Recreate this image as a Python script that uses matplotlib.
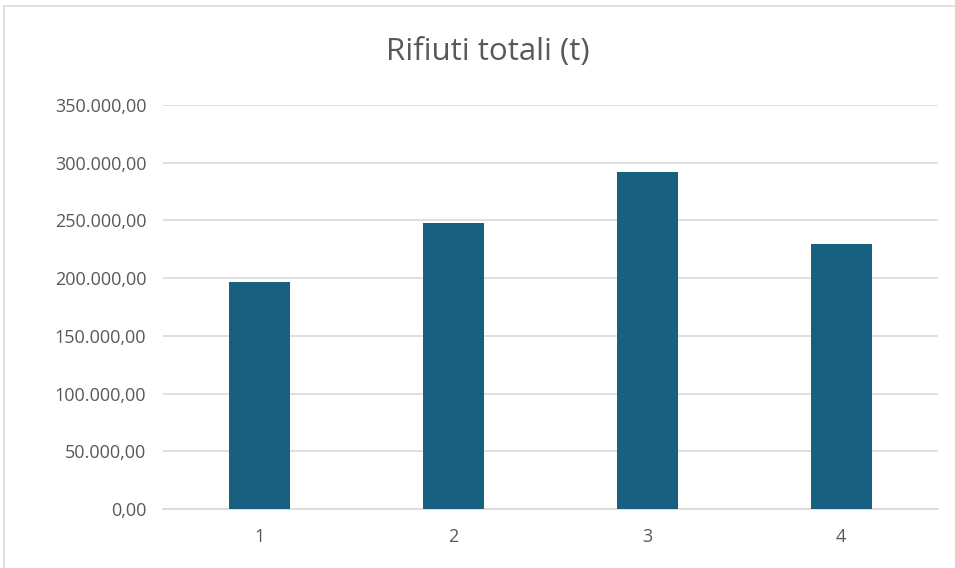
import matplotlib.pyplot as plt
from matplotlib.patches import Rectangle
from matplotlib.ticker import FuncFormatter

categories = ["1", "2", "3", "4"]
values = [196700, 247500, 292000, 229300]
yticks = [0, 50000, 100000, 150000, 200000, 250000, 300000, 350000]

plt.rcParams['font.family'] = ['Open Sans', 'DejaVu Sans']
text_color = "#595959"

fig = plt.figure(figsize=(9.55, 5.68), dpi=100)
fig.patches.append(Rectangle((4 / 955, -0.01), 1.0, (568 - 6) / 568 + 0.01,
                             transform=fig.transFigure, fill=False,
                             edgecolor="#d9d9d9", linewidth=1.2))

ax = fig.add_axes([163 / 955, 1 - 509 / 568, 775 / 955, 404 / 568])
x = range(len(categories))
ax.bar(x, values, width=0.315, color="#17607f", zorder=3)

ax.set_xlim(-0.5, len(categories) - 0.5)
ax.set_ylim(0, 350000)
ax.set_xticks(list(x))
ax.set_xticklabels(categories)
ax.set_yticks(yticks)


def it_fmt(v, pos):
    s = "{:,.2f}".format(v)
    return s.replace(",", "X").replace(".", ",").replace("X", ".")


ax.yaxis.set_major_formatter(FuncFormatter(it_fmt))
ax.grid(axis="y", color="#d9d9d9", linewidth=1.2, zorder=0)
for side in ["top", "right", "left"]:
    ax.spines[side].set_visible(False)
ax.spines["bottom"].set_color("#d9d9d9")
ax.spines["bottom"].set_linewidth(1.2)
ax.tick_params(length=0, labelsize=13, colors=text_color, pad=12)
ax.tick_params(axis="x", pad=14)

fig.text(488 / 955, 1 - 52 / 568, "Rifiuti totali (t)", ha="center", va="center",
         fontsize=22.5, color=text_color)

fig.savefig("out.png", dpi=100)
